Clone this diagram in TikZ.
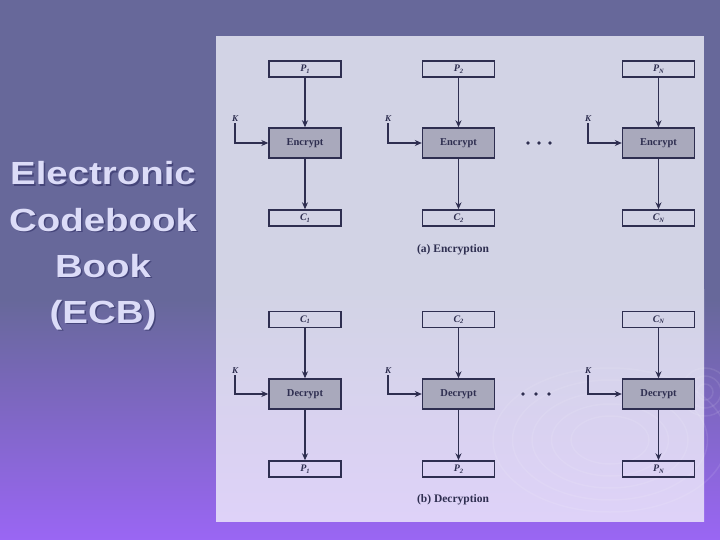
\documentclass[tikz,border=0pt]{standalone}
\usepackage{fontspec}
\setmainfont{Liberation Serif}
\newfontfamily\titlefont{Liberation Sans}
\usetikzlibrary{arrows.meta}
\definecolor{bgtop}{HTML}{67689A}
\definecolor{bgbot}{HTML}{9A66F4}
\definecolor{paneltop}{HTML}{D2D3E5}
\definecolor{panelbot}{HTML}{DED2F8}
\definecolor{ink}{HTML}{2E2E50}
\definecolor{boxgray}{HTML}{A9A9BC}
\definecolor{titlecol}{HTML}{DCDCF8}
\definecolor{shadowcol}{HTML}{45457A}
\newcommand\ecbsub[2]{#1\raisebox{-1.5pt}{\fontsize{6.5}{6.5}\selectfont #2}}
\newcommand\ecbtitle[1]{\scalebox{1.2}[1]{#1}}
\begin{document}
\begin{tikzpicture}[x=1pt,y=-1pt,
  io/.style={draw=ink, line width=1.4pt, minimum width=72pt, minimum height=16pt, inner sep=0pt,
    font=\bfseries\itshape\fontsize{10}{11}\selectfont, text=ink},
  cipher/.style={draw=ink, line width=1.4pt, fill=boxgray, minimum width=72pt, minimum height=30pt,
    inner sep=0pt, font=\bfseries\fontsize{10.5}{11}\selectfont, text=ink},
  key/.style={font=\bfseries\itshape\fontsize{9}{10}\selectfont, text=ink, inner sep=1pt},
  arr/.style={draw=ink, line width=1.2pt, -{Stealth[length=7pt,width=6pt]}},
  caption/.style={font=\bfseries\fontsize{11.5}{12}\selectfont, text=ink},
  titletext/.style={font=\titlefont\bfseries\fontsize{32}{32}\selectfont, anchor=base, inner sep=0pt},
  ring/.style={draw=white, opacity=0.09, line width=1.5pt}
]
\useasboundingbox (0,0) rectangle (720,540);
% background
\fill[bgtop] (0,0) rectangle (720,300);
\shade[top color=bgtop, bottom color=bgbot] (0,299.5) rectangle (720,540);
% panel
\fill[paneltop] (216,36) rectangle (704,290);
\shade[top color=paneltop, bottom color=panelbot] (216,289.5) rectangle (704,521);
% faint swirl decoration
\begin{scope}
\clip (0,0) rectangle (720,540);
\foreach \r in {30,45,60,75,90} \draw[ring] (610,440) ellipse ({\r*1.3} and \r*0.8);
\foreach \r in {8,16,24} \draw[ring] (705,392) circle (\r);
\end{scope}

% title
\foreach \txt/\yy [count=\i] in {Electronic/185, Codebook/231, Book/277, (ECB)/323}{
  \node[titletext, text=shadowcol] at (104.5,\yy+1.5) {\ecbtitle{\txt}};
  \node[titletext, text=titlecol] (title\i) at (103,\yy) {\ecbtitle{\txt}};
}

% ---------------- encryption ----------------
\node[io] (p1) at (305,69) {\ecbsub{P}{1}};
\node[io] (p2) at (458.5,69) {\ecbsub{P}{2}};
\node[io] (pn) at (658.5,69) {\ecbsub{P}{N}};
\node[cipher] (e1) at (305,143) {Encrypt};
\node[cipher] (e2) at (458.5,143) {Encrypt};
\node[cipher] (en) at (658.5,143) {Encrypt};
\node[io] (c1) at (305,218) {\ecbsub{C}{1}};
\node[io] (c2) at (458.5,218) {\ecbsub{C}{2}};
\node[io] (cn) at (658.5,218) {\ecbsub{C}{N}};
\node[key] (ke1) at (235,119) {K};
\node[key] (ke2) at (388,119) {K};
\node[key] (ken) at (588,119) {K};
\foreach \a/\b in {p1/e1,p2/e2,pn/en,e1/c1,e2/c2,en/cn} \draw[arr] (\a) -- (\b);
\foreach \k/\b in {ke1/e1,ke2/e2,ken/en} \draw[arr] (\k.south) |- (\b.west);
\foreach \x in {528,539,550} \fill[ink] (\x,143) circle (1.8);
\node[caption] (capa) at (453,250) {(a) Encryption};

% ---------------- decryption ----------------
\node[io] (dc1) at (305,319.5) {\ecbsub{C}{1}};
\node[io] (dc2) at (458.5,319.5) {\ecbsub{C}{2}};
\node[io] (dcn) at (658.5,319.5) {\ecbsub{C}{N}};
\node[cipher] (d1) at (305,394) {Decrypt};
\node[cipher] (d2) at (458.5,394) {Decrypt};
\node[cipher] (dn) at (658.5,394) {Decrypt};
\node[io] (dp1) at (305,469) {\ecbsub{P}{1}};
\node[io] (dp2) at (458.5,469) {\ecbsub{P}{2}};
\node[io] (dpn) at (658.5,469) {\ecbsub{P}{N}};
\node[key] (kd1) at (235,371) {K};
\node[key] (kd2) at (388,371) {K};
\node[key] (kdn) at (588,371) {K};
\foreach \a/\b in {dc1/d1,dc2/d2,dcn/dn,d1/dp1,d2/dp2,dn/dpn} \draw[arr] (\a) -- (\b);
\foreach \k/\b in {kd1/d1,kd2/d2,kdn/dn} \draw[arr] (\k.south) |- (\b.west);
\foreach \x in {523,536,549} \fill[ink] (\x,394) circle (1.8);
\node[caption] (capb) at (453,500) {(b) Decryption};
\end{tikzpicture}
\end{document}
